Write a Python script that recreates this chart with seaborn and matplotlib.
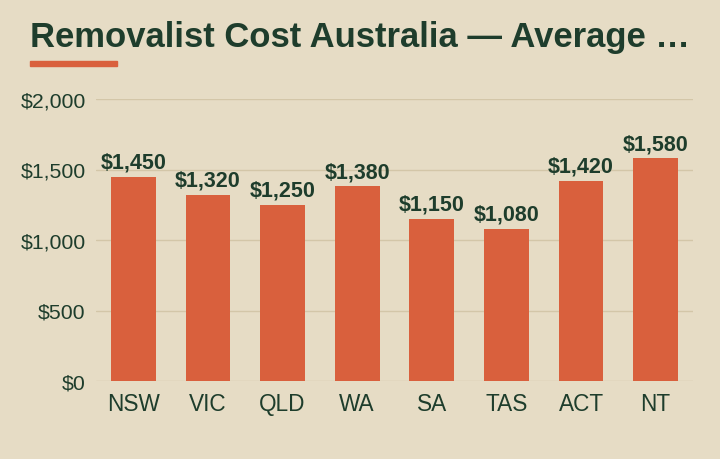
import pandas as pd
import matplotlib
matplotlib.use('Agg')
from matplotlib import pyplot as plt
from matplotlib.patches import Rectangle
from matplotlib.ticker import FuncFormatter
import seaborn as sns

# data
states = ['NSW', 'VIC', 'QLD', 'WA', 'SA', 'TAS', 'ACT', 'NT']
avg_cost = [1450, 1320, 1250, 1380, 1150, 1080, 1420, 1580]
y_ticks = [0, 500, 1000, 1500, 2000]
title = 'Removalist Cost Australia \u2014 Average \u2026'

BG = '#E6DCC5'
BAR = '#D9603D'
DARK = '#1E3D2C'
GRID = '#D3C6A8'

sns.set_theme(style='white')
plt.rcParams['font.family'] = ['Liberation Sans', 'DejaVu Sans']

df = pd.DataFrame({'State': states, 'Cost': avg_cost})

fig = plt.figure(figsize=(7.2, 4.6), dpi=100, facecolor=BG)
ax = fig.add_axes([96 / 720, 1 - 382 / 460, 597 / 720, 282 / 460])
ax.set_facecolor(BG)

sns.barplot(x='State', y='Cost', data=df, color=BAR, width=0.6, saturation=1,
            linewidth=0, ax=ax)

ax.set_ylim(0, 2000)
ax.set_yticks(y_ticks)
ax.yaxis.set_major_formatter(FuncFormatter(lambda v, p: f'${v:,.0f}'))
ax.grid(axis='y', color=GRID, linewidth=1)
ax.set_axisbelow(True)
for s in ax.spines.values():
    s.set_visible(False)
ax.tick_params(axis='y', length=0, labelsize=15.3, colors=DARK, pad=7.5)
ax.tick_params(axis='x', length=0, labelsize=16.3, colors=DARK, pad=8)
ax.set_xlabel('')
ax.set_ylabel('')

for i, v in enumerate(avg_cost):
    ax.annotate(f'${v:,}', (i, v), xytext=(0, 3), textcoords='offset points',
                ha='center', va='bottom', fontsize=15.5, fontweight='bold', color=DARK)

fig.text(30 / 720, 1 - 37 / 460, title, ha='left', va='center',
         fontsize=24.9, fontweight='bold', color=DARK)
fig.patches.append(Rectangle((30 / 720, 1 - 67 / 460), 87 / 720, 5 / 460,
                             transform=fig.transFigure, color=BAR, figure=fig))

fig.savefig('out.png', dpi=100, facecolor=BG)
